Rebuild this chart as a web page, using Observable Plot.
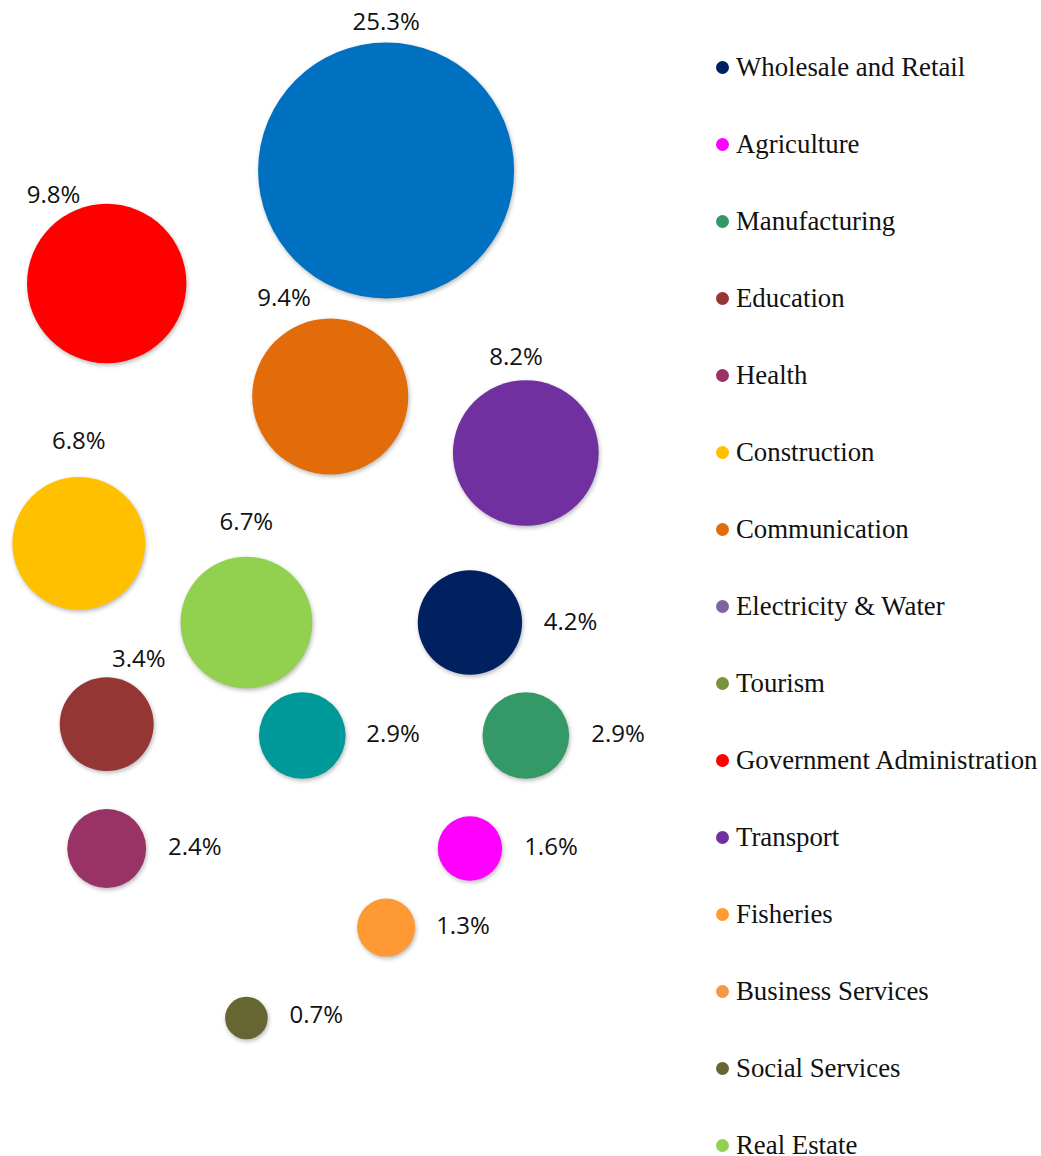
<!DOCTYPE html>
<html>
<head>
<meta charset="utf-8">
<script src="https://cdn.jsdelivr.net/npm/d3@7"></script>
<script src="https://cdn.jsdelivr.net/npm/@observablehq/plot@0.6"></script>
<style>
  html, body { margin: 0; padding: 0; background: #fff; }
  #wrap { position: relative; width: 1041px; height: 1156px; overflow: hidden; }
  #wrap svg { position: absolute; left: 0; top: 0; }
  .leg { position: absolute; left: 716px; height: 20px; line-height: 20px; display: flex; align-items: center;
         font-family: "Liberation Serif", "Times New Roman", serif; font-size: 26.8px; color: #111; white-space: nowrap; }
  .leg .sw { width: 13px; height: 13px; border-radius: 50%; margin-right: 7px; flex: none; }
</style>
</head>
<body>
<div id="wrap"></div>
<script>
// ---- Data ----
const shares  = [25.3, 9.8, 9.4, 8.2, 6.8, 6.7, 4.2, 3.4, 2.9, 2.9, 2.4, 1.6, 1.3, 0.7];
const bubbleX = [3.0, 1.0, 2.6, 4.0, 0.8, 2.0, 3.6, 1.0, 2.4, 4.0, 1.0, 3.6, 3.0, 2.0];
const bubbleY = [8.0, 7.0, 6.0, 5.5, 4.7, 4.0, 4.0, 3.1, 3.0, 3.0, 2.0, 2.0, 1.3, 0.5];
// label anchor points (data units)
const labelX  = [3.0, 0.62, 2.27, 3.93, 0.8, 2.0, 4.32, 1.23, 3.05, 4.66, 1.63, 4.18, 3.55, 2.50];
const labelY  = [9.31, 7.78, 6.87, 6.35, 5.6, 4.89, 4.0, 3.67, 3.01, 3.01, 2.01, 2.01, 1.31, 0.52];
const bubbleColors = ["#0070C0","#FF0000","#E36C0A","#7030A0","#FFC000","#92D050","#002060",
                      "#943634","#009999","#339966","#993366","#FF00FF","#FF9933","#666633"];

const legendNames = ["Wholesale and Retail","Agriculture","Manufacturing","Education","Health",
  "Construction","Communication","Electricity & Water","Tourism","Government Administration",
  "Transport","Fisheries","Business Services","Social Services","Real Estate"];
const legendColors = ["#002060","#FF00FF","#339966","#943634","#993366","#FFC000","#E36C0A",
  "#8064A2","#77933C","#FF0000","#7030A0","#FF9933","#F79646","#666633","#92D050"];

const data = shares.map((v, i) => ({
  v, x: bubbleX[i], y: bubbleY[i], lx: labelX[i], ly: labelY[i], c: bubbleColors[i]
}));

const chart = Plot.plot({
  width: 1041,
  height: 1156,
  margin: 0,
  x: {domain: [0, 5], range: [-33.5, 665], axis: null},
  y: {domain: [0, 10], range: [1074, -56], axis: null},
  r: {type: "sqrt", domain: [0, 25.3], range: [0, 128]},
  color: {type: "identity"},
  marks: [
    Plot.dot(data, {x: "x", y: "y", r: "v", fill: "c", stroke: "none"}),
    Plot.text(data, {x: "lx", y: "ly", text: d => d.v.toFixed(1) + "%",
      fontSize: 24, fontFamily: "Open Sans", fill: "#111", textAnchor: "middle"})
  ]
});

const dotG = chart.querySelector('g[aria-label="dot"]');
if (dotG) dotG.style.filter = "drop-shadow(1px 2px 2px rgba(0,0,0,0.28))";

const wrap = document.getElementById("wrap");
wrap.appendChild(chart);

legendNames.forEach((name, i) => {
  const item = document.createElement("div");
  item.className = "leg";
  item.style.top = (67 + i * 77 - 10) + "px";
  const sw = document.createElement("span");
  sw.className = "sw";
  sw.style.background = legendColors[i];
  const tx = document.createElement("span");
  tx.textContent = name;
  item.appendChild(sw);
  item.appendChild(tx);
  wrap.appendChild(item);
});
</script>
</body>
</html>
